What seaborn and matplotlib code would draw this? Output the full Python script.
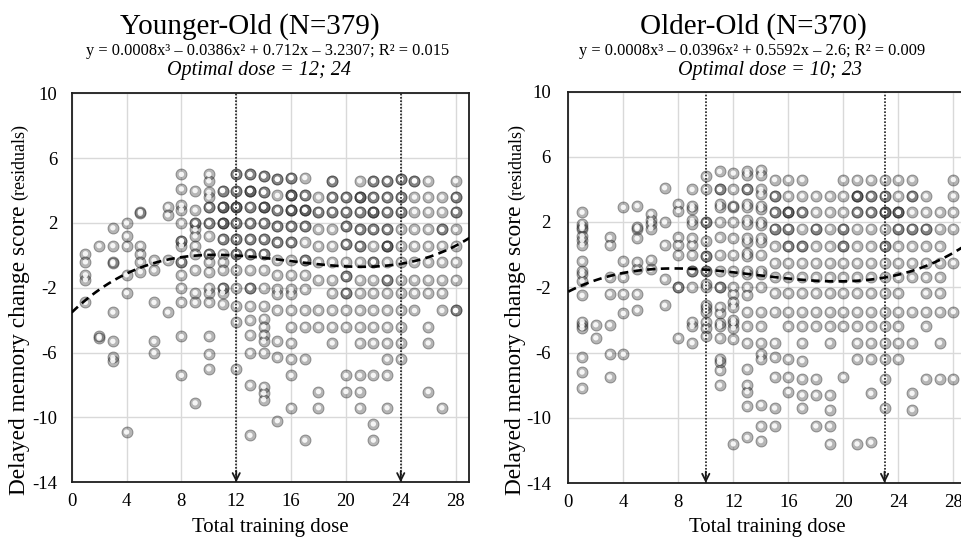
import matplotlib
matplotlib.use("Agg")
import matplotlib.pyplot as plt
import pandas as pd
import seaborn as sns

# Younger-old group: delayed memory change residuals, listed per training dose
young_doses = [1, 2, 3, 4, 5, 6, 7, 8, 9, 10, 11, 12, 13, 14,
               15, 16, 17, 18, 19, 20, 21, 22, 23, 24, 25, 26, 27, 28]
young_scores = [
    [0.1, -0.4, -1.2, -1.5, -2.9],
    [0.6, -5.0, -5.1],
    [1.7, 0.6, -0.4, -0.5, -3.5, -5.3, -6.3, -6.5],
    [2.0, 1.2, 0.6, -1.2, -2.3, -10.9],
    [2.7, 2.6, 0.6, 0.1, -0.4, -1.0],
    [-0.3, -0.9, -2.9, -5.3, -6.0],
    [3.0, 2.5, -0.3, -3.5],
    [5.0, 4.1, 3.1, 2.8, 2.0, 0.9, 0.9, 0.6, -0.4, -0.4, -1.2, -2.0, -2.9, -5.0, -7.4],
    [4.0, 2.8, 2.0, 2.0, 1.6, 1.2, 0.6, 0.1, -0.9, -2.3, -2.9, -9.1],
    [5.0, 4.6, 3.9, 3.6, 3.0, 3.0, 2.0, 2.0, 1.2, 0.1, 0.1, -0.4, -1.0, -2.0, -2.3,
     -2.9, -5.0, -6.1, -7.0],
    [4.0, 4.0, 3.0, 3.0, 3.0, 2.0, 2.0, 2.0, 1.0, 1.0, 0.1, -0.4, -0.9, -2.0, -2.0,
     -2.3, -3.0],
    [5.0, 5.0, 4.0, 4.0, 3.0, 3.0, 3.0, 2.0, 2.0, 1.0, 1.0, 0.1, 0.1, -0.9, -2.0,
     -3.1, -4.1, -7.0],
    [5.0, 5.0, 4.0, 4.0, 4.0, 3.0, 3.0, 2.0, 2.0, 1.0, 1.0, 0.1, 0.1, -0.9, -2.0,
     -2.0, -3.1, -4.0, -4.9, -6.0, -8.0, -11.1],
    [4.9, 4.9, 3.9, 3.9, 3.0, 3.0, 3.0, 2.0, 2.0, 1.0, 1.0, 0.1, 0.1, -0.9, -2.0,
     -3.1, -3.9, -4.4, -4.9, -5.3, -6.0, -8.1, -8.5, -8.9],
    [4.7, 4.7, 3.7, 2.8, 2.8, 1.8, 1.8, 0.8, 0.8, -0.3, -1.2, -2.1, -2.4, -3.4, -5.3,
     -6.3, -10.2],
    [4.8, 4.8, 3.7, 3.7, 3.7, 2.8, 2.8, 2.8, 1.8, 1.8, 0.8, 0.8, -0.3, -1.2, -2.1,
     -2.4, -3.4, -4.4, -5.4, -6.4, -7.4, -9.4],
    [4.8, 3.7, 3.7, 2.8, 2.8, 2.8, 1.8, 1.8, 0.8, -0.3, -0.3, -1.2, -2.1, -3.4, -4.4,
     -6.4, -11.4],
    [3.6, 2.7, 2.7, 1.6, 0.6, -0.4, -1.5, -3.4, -4.4, -8.4, -9.4],
    [4.6, 4.6, 3.6, 3.6, 2.7, 2.7, 1.6, 0.6, -0.4, -1.5, -2.3, -3.4, -4.4, -5.4],
    [3.6, 3.6, 2.7, 2.7, 1.8, 1.8, 0.7, 0.7, -0.4, -1.3, -1.3, -2.3, -2.3, -3.4, -4.4,
     -7.4, -8.4],
    [4.6, 3.6, 3.6, 3.6, 2.7, 2.7, 1.6, 1.6, 0.6, 0.6, -0.4, -1.5, -2.3, -3.4, -4.4,
     -5.4, -7.4, -8.4, -9.4],
    [4.6, 4.6, 3.6, 3.6, 2.7, 2.7, 2.7, 1.6, 1.6, 0.6, -0.4, -0.4, -1.5, -2.3, -3.4,
     -4.4, -5.4, -7.4, -10.4, -11.4],
    [4.6, 4.6, 3.6, 3.6, 2.7, 2.7, 1.6, 1.6, 0.6, 0.6, 0.6, -0.4, -1.5, -1.5, -2.3,
     -3.4, -4.4, -5.4, -6.4, -7.4, -9.4],
    [4.7, 4.7, 3.6, 3.6, 2.7, 2.7, 1.6, 0.6, -0.4, -1.5, -2.3, -3.4, -4.4, -5.4, -6.4],
    [4.6, 4.6, 3.6, 2.7, 1.6, 0.6, -0.4, -1.5, -2.3, -3.4],
    [4.6, 3.6, 2.7, 1.6, 0.6, -0.4, -1.5, -2.3, -4.4, -5.4, -8.4],
    [3.6, 2.7, 1.6, 1.6, 0.6, -0.4, -1.5, -2.3, -3.4, -9.4],
    [4.6, 3.6, 3.6, 2.7, 2.7, 1.6, 0.6, -0.4, -1.5, -3.4, -3.4],
]

# Older-old group
older_doses = [1, 2, 3, 4, 5, 6, 7, 8, 9, 10, 11, 12, 13, 14,
               15, 16, 17, 18, 19, 20, 21, 22, 23, 24, 25, 26, 27, 28]
older_scores = [
    [2.6, 1.9, 1.7, 1.6, 1.15, 0.9, 0.6, -0.4, -1.0, -1.2, -1.6, -2.5, -4.1, -4.3, -4.5,
     -6.3, -7.2, -8.2],
    [-4.3, -5.1],
    [1.05, 0.6, -1.4, -2.4, -4.3, -6.1, -7.5],
    [2.9, -0.4, -1.4, -2.4, -3.6, -6.1],
    [3.0, 1.7, 1.6, 1.0, -0.45, -0.9, -2.4, -3.4],
    [2.5, 2.1, 1.9, 1.6, -0.3, -0.9],
    [4.1, 2.0, 0.6, -1.5, -3.1],
    [3.1, 2.7, 1.05, 0.6, 0.0, -2.0, -2.0, -5.1],
    [4.0, 3.0, 2.8, 2.1, 1.9, 1.0, 0.6, 0.0, -1.0, -1.0, -2.0, -4.1, -4.4, -5.4],
    [4.8, 4.0, 2.0, 2.0, 0.85, -0.1, -0.1, -1.0, -1.0, -1.8, -2.0, -3.1, -3.3, -3.5,
     -4.1, -4.5, -5.0],
    [5.1, 4.0, 4.0, 3.1, 2.9, 2.0, 1.05, 0.0, -1.0, -2.0, -2.0, -3.2, -3.6, -4.2, -4.4,
     -5.1, -6.4, -6.6, -7.1, -8.0],
    [5.0, 4.0, 3.0, 2.9, 2.0, 1.0, 0.0, -1.0, -2.0, -2.4, -2.9, -3.2, -4.0, -4.2, -4.5,
     -5.2, -11.6],
    [5.1, 4.9, 4.0, 4.0, 3.1, 2.9, 2.1, 1.9, 1.0, 0.8, 0.1, -0.1, -1.0, -1.2, -2.0,
     -2.45, -3.5, -4.4, -5.4, -7.0, -8.0, -8.4, -9.3, -11.2],
    [5.2, 4.9, 4.0, 3.7, 3.0, 2.8, 2.0, 1.8, 1.0, 0.8, 0.0, -1.0, -1.2, -2.0, -3.5,
     -4.4, -5.4, -6.1, -6.4, -9.2, -10.5, -11.4],
    [4.6, 3.6, 3.6, 2.6, 2.6, 1.6, 1.6, 0.5, -0.5, -1.4, -2.35, -3.5, -5.4, -6.3, -7.5,
     -9.4, -10.5],
    [4.6, 3.6, 2.6, 2.6, 2.6, 1.6, 1.6, 0.5, 0.5, -0.5, -1.4, -2.35, -3.5, -4.4, -6.4,
     -7.5, -8.4],
    [4.6, 3.6, 2.6, 2.6, 1.6, 0.5, 0.5, -0.5, -1.4, -2.35, -3.5, -4.4, -5.4, -6.5, -7.6,
     -8.6, -9.4],
    [3.6, 2.6, 1.6, 1.6, 0.5, -0.5, -1.4, -2.35, -3.5, -4.4, -7.6, -8.6, -10.5],
    [3.6, 2.6, 1.6, 0.5, -0.5, -1.4, -2.35, -3.5, -4.4, -5.4, -8.6, -9.5, -10.5, -11.6],
    [4.6, 3.6, 2.6, 1.6, 1.6, 0.5, 0.5, -0.5, -1.4, -2.35, -3.5, -4.4, -7.5],
    [4.6, 3.6, 3.6, 3.6, 2.6, 2.6, 1.6, 0.5, -0.5, -1.4, -2.35, -3.5, -4.4, -5.4, -6.4,
     -11.6],
    [4.6, 3.6, 3.6, 2.6, 2.6, 1.6, 0.5, -0.5, -1.4, -2.35, -3.5, -4.4, -5.4, -6.4, -8.5,
     -11.5],
    [4.6, 3.6, 3.6, 2.6, 2.6, 2.6, 1.6, 0.5, 0.5, -0.5, -1.4, -2.35, -3.5, -4.4, -5.4,
     -6.4, -7.6, -9.4],
    [4.6, 3.6, 2.6, 2.6, 2.6, 1.6, 1.6, 0.5, -0.5, -1.4, -2.35, -3.5, -4.4, -5.4, -6.4],
    [4.6, 3.6, 3.6, 2.6, 1.6, 1.6, 0.5, -0.5, -1.4, -3.5, -5.4, -8.5, -9.5],
    [3.6, 2.6, 1.6, 1.6, 0.5, -0.5, -1.4, -2.35, -3.5, -4.4, -7.6],
    [2.6, 1.6, 0.5, -0.5, -1.4, -2.35, -3.5, -5.4, -7.6],
    [4.6, 3.6, 2.6, 1.6, -0.5, -3.5, -7.6],
]

young_optimal = [12, 24]
older_optimal = [10, 23]

young_title = "Younger-Old (N=379)"
older_title = "Older-Old (N=370)"
young_equation = "y = 0.0008x³ – 0.0386x² + 0.712x – 3.2307; R² = 0.015"
older_equation = "y = 0.0008x³ – 0.0396x² + 0.5592x – 2.6; R² = 0.009"
young_optimal_text = "Optimal dose = 12; 24"
older_optimal_text = "Optimal dose = 10; 23"

x_ticks = [0, 4, 8, 12, 16, 20, 24, 28]
y_ticks = [-14, -10, -6, -2, 2, 6, 10]


def long_table(doses, scores):
    rows = [(d, s) for d, column in zip(doses, scores) for s in column]
    return pd.DataFrame(rows, columns=["dose", "score"])


sns.set_style("whitegrid")
plt.rcParams["font.family"] = ["Liberation Serif", "DejaVu Serif"]
plt.rcParams["axes.unicode_minus"] = False
for key in ("text.color", "axes.labelcolor", "xtick.color", "ytick.color"):
    plt.rcParams[key] = "black"

W, H = 962, 538
fig = plt.figure(figsize=(W / 100, H / 100), dpi=100)


def fx(px):
    return px / W


def fy(px):
    return 1 - px / H


ax_young = fig.add_axes([fx(71.7), fy(482.3), fx(469.3 - 71.7), (482.3 - 93.3) / H])
# the right panel runs past the page edge, so its right border is cut off
ax_older = fig.add_axes([fx(568.3), fy(483.0), fx(29 * 13.75), (483.0 - 91.5) / H])


def draw_panel(ax, df, optimal, ypad):
    ax.set_xlim(0, 29)
    ax.set_ylim(-14, 10)
    ax.set_xticks(x_ticks)
    ax.set_yticks(y_ticks)
    ax.grid(True, color="#d9d9d9", lw=1.0)
    ax.set_axisbelow(True)
    for sp in ax.spines.values():
        sp.set_visible(True)
        sp.set_color("#1e1e1e")
        sp.set_linewidth(1.3)

    # shaded ball markers: translucent dark body, soft rim and a white highlight
    sns.scatterplot(data=df, x="dose", y="score", s=62,
                    color=(0.12, 0.12, 0.12, 0.33),
                    edgecolor=(0.10, 0.10, 0.10, 0.40), linewidth=0.7,
                    legend=False, ax=ax, zorder=3)
    sns.scatterplot(data=df, x="dose", y="score", s=15, color="white",
                    edgecolor="none", alpha=0.88, legend=False, ax=ax, zorder=4)

    # cubic trend line
    sns.regplot(data=df, x="dose", y="score", order=3, scatter=False, ci=None,
                truncate=False, ax=ax,
                line_kws=dict(color="black", lw=1.9, ls=(0, (3.2, 2.0)), zorder=5))

    for d in optimal:
        ax.axvline(d, color="#1a1a1a", lw=1.2, ls=(0, (1, 1)), zorder=6)
        ax.annotate("", xy=(d, -14), xytext=(d, -13.3),
                    arrowprops=dict(arrowstyle="->", color="#1a1a1a", lw=1.3,
                                    mutation_scale=13, shrinkA=0, shrinkB=0),
                    zorder=7)

    ax.tick_params(length=0, labelsize=13.5)
    ax.tick_params(axis="y", pad=ypad)
    ax.tick_params(axis="x", pad=8)
    ax.set_ylabel("")
    ax.set_xlabel("Total training dose", fontsize=15)
    ax.xaxis.label.set_verticalalignment("baseline")
    bottom = ax.get_position().y0
    height = ax.get_position().height
    ax.xaxis.set_label_coords(0.5, (fy(531.7) - bottom) / height)


draw_panel(ax_young, long_table(young_doses, young_scores), young_optimal, 10.5)
draw_panel(ax_older, long_table(older_doses, older_scores), older_optimal, 12.5)

# headers: group title, fitted equation, optimal doses
for tcx, title, ecx, eq, ocx, opt in [
    (250, young_title, 267.5, young_equation, 259.3, young_optimal_text),
    (753.3, older_title, 752.5, older_equation, 770, older_optimal_text),
]:
    fig.text(fx(tcx), fy(33.3), title, fontsize=21, ha="center", va="baseline")
    fig.text(fx(ecx), fy(55), eq, fontsize=11.8, ha="center", va="baseline")
    fig.text(fx(ocx), fy(75), opt, fontsize=14.5, style="italic",
             ha="center", va="baseline")

# y-axis titles, with a smaller "(residuals)" after the main words
fig.canvas.draw()
for base_x in (24.5, 521.0):
    main = fig.text(fx(base_x), fy(495), "Delayed memory change score",
                    fontsize=16.8, rotation=90, rotation_mode="anchor",
                    ha="left", va="baseline")
    fig.canvas.draw()
    bb = main.get_window_extent()
    fig.text(fx(base_x), (bb.y1 + 6) / fig.bbox.height, "(residuals)",
             fontsize=13, rotation=90, rotation_mode="anchor",
             ha="left", va="baseline")

fig.savefig("out.png", dpi=100)
